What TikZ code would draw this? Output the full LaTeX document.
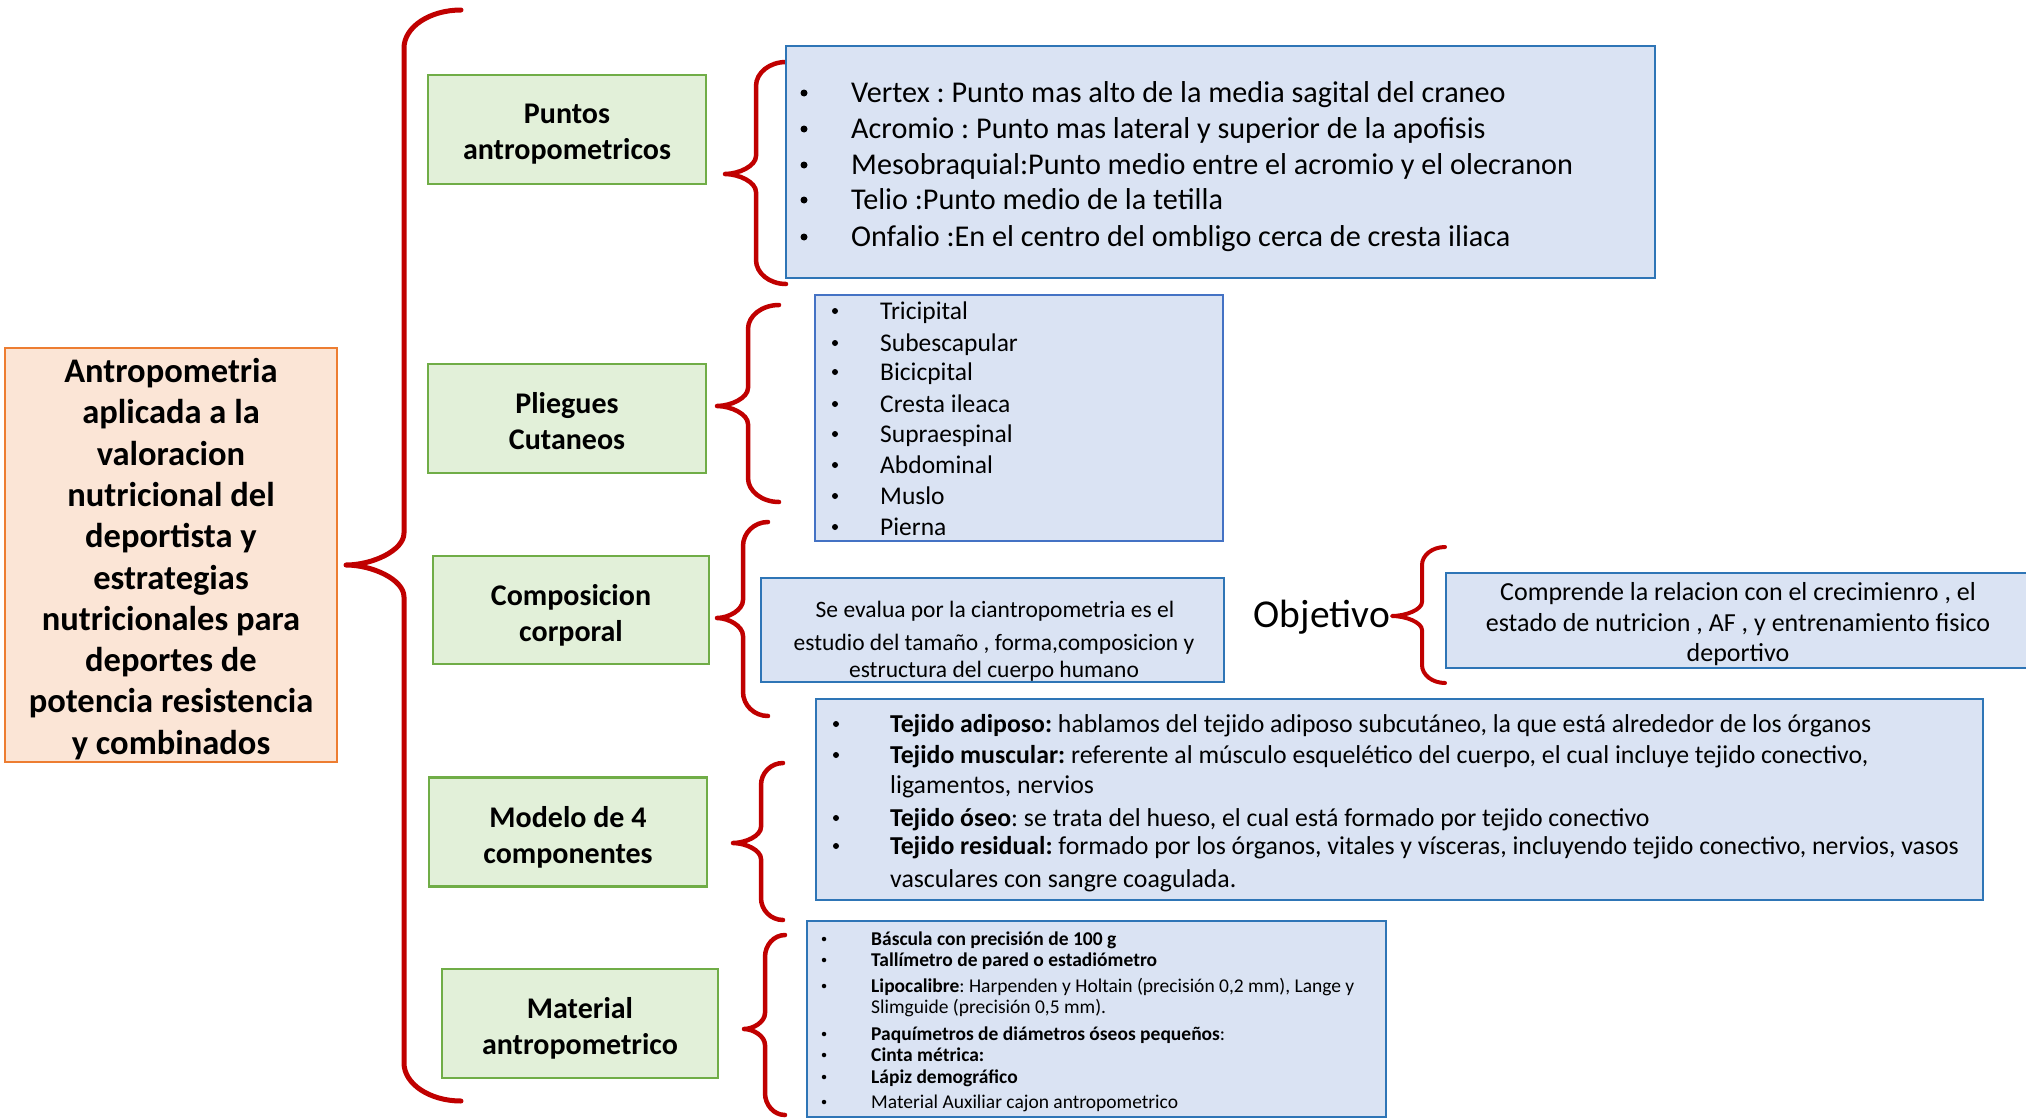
\documentclass[tikz,border=0pt]{standalone}
\usepackage{fontspec}
\setmainfont{Carlito}
\frenchspacing
\definecolor{bracered}{HTML}{C00000}
\definecolor{gfill}{HTML}{E2F0D9}
\definecolor{gline}{HTML}{70AD47}
\definecolor{bfill}{HTML}{DAE3F3}
\definecolor{bline}{HTML}{2E75B6}
\definecolor{bline2}{HTML}{4472C4}
\definecolor{ofill}{HTML}{FBE5D6}
\definecolor{oline}{HTML}{ED7D31}
% #1 xe, #2 xv, #3 xtip, #4 ytop, #5 ymid, #6 ybot, #7 corner r, #8 tip r, #9 width
\newcommand\drawredbrace[9]{%
 \draw[redbrace,line width=#9] (#1,#4) .. controls ({#2+0.45*(#1-#2)},#4) and (#2,{#4+0.45*#7}) .. (#2,{#4+#7})
 -- (#2,{#5-#8}) .. controls (#2,{#5-0.45*#8}) and ({#3+0.45*(#2-#3)},#5) .. (#3,#5)
 .. controls ({#3+0.45*(#2-#3)},#5) and (#2,{#5+0.45*#8}) .. (#2,{#5+#8})
 -- (#2,{#6-#7}) .. controls (#2,{#6-0.45*#7}) and ({#2+0.45*(#1-#2)},#6) .. (#1,#6);}
\begin{document}
\begin{tikzpicture}[x=1pt,y=-1pt,
  redbrace/.style={draw=bracered,line cap=round,line join=round},
  greenbox/.style={draw=gline,fill=gfill,line width=2.5pt,minimum width=278pt,minimum height=109pt,inner sep=0pt},
  greentext/.style={align=center,inner sep=0pt,font=\fontsize{30}{36}\selectfont\bfseries},
  bluebox/.style={draw=bline,fill=bfill,line width=2.5pt,inner sep=0pt},
  orangebox/.style={draw=oline,fill=ofill,line width=2.2pt,inner sep=0pt},
  pfont/.style={font=\fontsize{30.2}{35}\selectfont},
  lfont/.style={font=\fontsize{25.5}{30}\selectfont},
  cfont/.style={font=\fontsize{23.5}{28}\selectfont},
  ofont/.style={font=\fontsize{26}{28}\selectfont},
  mfont/.style={font=\fontsize{25.8}{28}\selectfont},
  afont/.style={font=\fontsize{19.5}{22}\selectfont},
  lbl/.style={anchor=base west,inner sep=0pt},
  bdot/.style={circle,fill=black,inner sep=0pt,minimum size=#1},
  ctr/.style={anchor=base,inner sep=0pt}]
\useasboundingbox (0,0) rectangle (2026,1119);
\clip (0,0) rectangle (2026,1119);
\fill[white] (0,0) rectangle (2026,1119);

% main box
\node[orangebox,minimum width=332pt,minimum height=414pt] (main) at (171,555) {};
\node[align=center,inner sep=0pt,font=\fontsize{34.5}{41.3}\selectfont\bfseries] (maintext) at (171,559)
 {Antropometria\\aplicada a la\\valoracion\\nutricional del\\deportista y\\estrategias\\nutricionales para\\deportes de\\potencia resistencia\\y combinados};

% big brace
\drawredbrace{461}{404}{346}{10}{565}{1101}{38}{32}{5pt}

% green boxes
\node[greenbox] (puntos) at (567,129.5) {};
\node[greentext] (puntos-t) at (567,134.5) {Puntos\\antropometricos};
\node[greenbox] (pliegues) at (567,418.5) {};
\node[greentext] (pliegues-t) at (567,421) {Pliegues\\Cutaneos};
\node[greenbox,minimum width=276pt,minimum height=108pt] (compo) at (571,610) {};
\node[greentext] (compo-t) at (571,615) {Composicion\\corporal};
\node[greenbox] (modelo) at (568,832) {};
\node[greentext] (modelo-t) at (568,837) {Modelo de 4\\componentes};
\node[greenbox,minimum width=276pt] (material) at (580,1023.5) {};
\node[greentext] (material-t) at (580,1028.5) {Material\\antropometrico};

% secondary braces
\drawredbrace{786}{756}{725}{62}{174}{284}{24}{18}{4.5pt}
\drawredbrace{779}{748}{717}{305}{406}{502}{24}{18}{4.5pt}
\drawredbrace{768}{743}{717}{522}{618}{716}{24}{18}{4.5pt}
\drawredbrace{783}{761}{733}{763}{843}{920}{22}{16}{4.5pt}
\drawredbrace{785}{765}{744}{935}{1029}{1115}{22}{16}{4.5pt}
\drawredbrace{1445}{1422}{1392}{547}{616}{683}{18}{14}{4pt}

% Puntos list
\node[bluebox,minimum width=869pt,minimum height=232pt] (pbox) at (1220.5,162) {};
\node[bdot=7pt] (pb1) at (804,93) {};
\node[lbl,pfont] (p1) at (851,102) {Vertex : Punto mas alto de la media sagital del craneo};
\node[bdot=7pt] (pb2) at (804,129) {};
\node[lbl,pfont] (p2) at (851,138) {Acromio : Punto mas lateral y superior de la apofisis};
\node[bdot=7pt] (pb3) at (804,165) {};
\node[lbl,pfont] (p3) at (851,174) {Mesobraquial:Punto medio entre el acromio y el olecranon};
\node[bdot=7pt] (pb4) at (804,200) {};
\node[lbl,pfont] (p4) at (851,209) {Telio :Punto medio de la tetilla};
\node[bdot=7pt] (pb5) at (804,237) {};
\node[lbl,pfont] (p5) at (851,246) {Onfalio :En el centro del ombligo cerca de cresta iliaca};

% Pliegues list
\node[bluebox,draw=bline2,minimum width=408pt,minimum height=246pt] (lbox) at (1019,418) {};
\node[bdot=6pt] (lb1) at (835,311) {};
\node[lbl,lfont] (l1) at (880,319) {Tricipital};
\node[bdot=6pt] (lb2) at (835,343) {};
\node[lbl,lfont] (l2) at (880,351) {Subescapular};
\node[bdot=6pt] (lb3) at (835,372) {};
\node[lbl,lfont] (l3) at (880,380) {Bicicpital};
\node[bdot=6pt] (lb4) at (835,404) {};
\node[lbl,lfont] (l4) at (880,412) {Cresta ileaca};
\node[bdot=6pt] (lb5) at (835,434) {};
\node[lbl,lfont] (l5) at (880,442) {Supraespinal};
\node[bdot=6pt] (lb6) at (835,465) {};
\node[lbl,lfont] (l6) at (880,473) {Abdominal};
\node[bdot=6pt] (lb7) at (835,496) {};
\node[lbl,lfont] (l7) at (880,504) {Muslo};
\node[bdot=6pt] (lb8) at (835,527) {};
\node[lbl,lfont] (l8) at (880,535) {Pierna};

% Composicion box
\node[bluebox,minimum width=463pt,minimum height=104pt] (cbox) at (992.5,630) {};
\node[ctr,cfont] (c1) at (995,617) {Se evalua por la ciantropometria es el};
\node[ctr,cfont] (c2) at (994,650) {estudio del tamaño , forma,composicion y};
\node[ctr,cfont] (c3) at (994,677) {estructura del cuerpo humano};

% Objetivo
\node[anchor=base east,inner sep=0pt,font=\fontsize{39.5}{41}\selectfont] (obj) at (1390,627) {Objetivo};
\node[bluebox,minimum width=594pt,minimum height=95pt] (obox) at (1743,620.5) {};
\node[ctr,ofont] (o1) at (1738,600) {Comprende la relacion con el crecimienro , el};
\node[ctr,ofont] (o2) at (1738,631) {estado de nutricion , AF , y entrenamiento fisico};
\node[ctr,ofont] (o3) at (1738,661) {deportivo};

% Modelo list
\node[bluebox,minimum width=1167pt,minimum height=201pt] (mbox) at (1399.5,799.5) {};
\node[bdot=6pt] (mb1) at (836,724) {};
\node[lbl,mfont] (m1) at (890,732) {\textbf{Tejido adiposo:} hablamos del tejido adiposo subcutáneo, la que está alrededor de los órganos};
\node[bdot=6pt] (mb2) at (836,755) {};
\node[lbl,mfont] (m2) at (890,763) {\textbf{Tejido muscular:} referente al músculo esquelético del cuerpo, el cual incluye tejido conectivo,};
\node[lbl,mfont] (m3) at (890,793) {ligamentos, nervios};
\node[bdot=6pt] (mb4) at (836,818) {};
\node[lbl,mfont] (m4) at (890,826) {\textbf{Tejido óseo}: se trata del hueso, el cual está formado por tejido conectivo};
\node[bdot=6pt] (mb5) at (836,846) {};
\node[lbl,mfont] (m5) at (890,854) {\textbf{Tejido residual:} formado por los órganos, vitales y vísceras, incluyendo tejido conectivo, nervios, vasos};
\node[lbl,mfont] (m6) at (890,887) {vasculares con sangre coagulada.};

% Material list
\node[bluebox,minimum width=579pt,minimum height=196pt] (abox) at (1096.5,1019) {};
\node[bdot=4.5pt] (ab1) at (824,939) {};
\node[lbl,afont] (a1) at (871,945) {\textbf{Báscula con precisión de 100 g}};
\node[bdot=4.5pt] (ab2) at (824,960) {};
\node[lbl,afont] (a2) at (871,966) {\textbf{Tallímetro de pared o estadiómetro}};
\node[bdot=4.5pt] (ab3) at (824,986) {};
\node[lbl,afont] (a3) at (871,992) {\textbf{Lipocalibre}: Harpenden y Holtain (precisión 0,2 mm), Lange y};
\node[lbl,afont] (a4) at (871,1013) {Slimguide (precisión 0,5 mm).};
\node[bdot=4.5pt] (ab5) at (824,1034) {};
\node[lbl,afont] (a5) at (871,1040) {\textbf{Paquímetros de diámetros óseos pequeños}:};
\node[bdot=4.5pt] (ab6) at (824,1055) {};
\node[lbl,afont] (a6) at (871,1061) {\textbf{Cinta métrica:}};
\node[bdot=4.5pt] (ab7) at (824,1077) {};
\node[lbl,afont] (a7) at (871,1083) {\textbf{Lápiz demográfico}};
\node[bdot=4.5pt] (ab8) at (824,1102) {};
\node[lbl,afont] (a8) at (871,1108) {Material Auxiliar cajon antropometrico};
\end{tikzpicture}
\end{document}
